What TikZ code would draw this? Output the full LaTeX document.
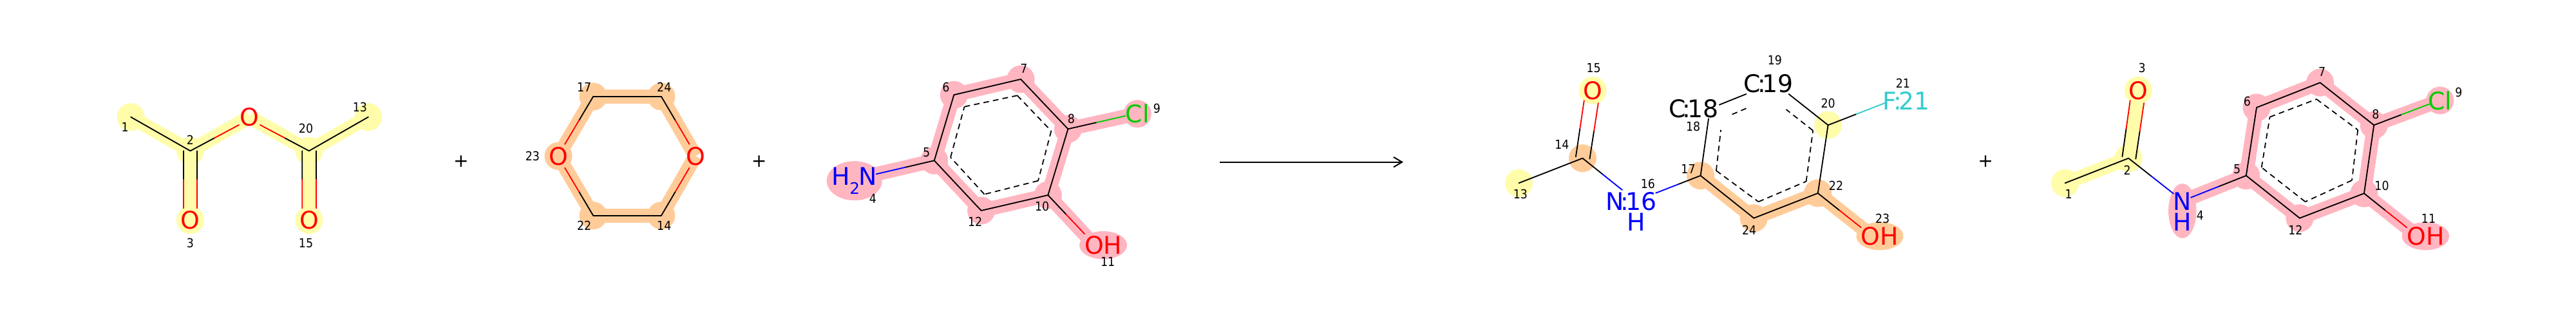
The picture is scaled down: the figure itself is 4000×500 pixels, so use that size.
\documentclass[tikz,border=0pt]{standalone}
\usepackage{fontspec}
\setmainfont{DejaVu Sans}
\newfontfamily\numfont{DejaVu Sans}[FakeStretch=0.9]
\usetikzlibrary{calc,arrows.meta}
\definecolor{hy}{HTML}{FFFDAA}
\definecolor{ho}{HTML}{FFCC99}
\definecolor{hp}{HTML}{FFB6C1}
\definecolor{oc}{RGB}{255,0,0}
\definecolor{nc}{RGB}{0,0,255}
\definecolor{clc}{RGB}{0,204,0}
\definecolor{fc}{HTML}{33CCCC}
\tikzset{
  bondline/.style={line width=1.05pt,line cap=round},
  innerdash/.style={line width=1.0pt,dash pattern=on 5pt off 3.6pt},
  band/.style={line width=12.47pt,line cap=butt},
  atomlab/.style={font=\fontsize{21.5}{24}\selectfont,inner sep=0pt,outer sep=0pt},
  numlab/.style={font=\numfont\fontsize{11}{12}\selectfont,inner sep=0pt,outer sep=0pt},
  plussign/.style={font=\fontsize{16}{18}\selectfont,inner sep=0pt},
}
% half-coloured bond: from, to, colour at from, colour at to
\newcommand{\hb}[4]{%
  \draw[bondline,#3] (#1) -- ($(#1)!.5!(#2)$);
  \draw[bondline,#4] ($(#1)!.5!(#2)$) -- (#2);}
\newcommand{\bb}[2]{\draw[bondline,black] (#1) -- (#2);}
\newcommand{\ib}[2]{\draw[innerdash] (#1) -- (#2);}
\newcommand{\bandl}[3]{\draw[band,#1] (#2) -- (#3);}
\newcommand{\atomdot}[2]{\fill[#1] (#2) circle [radius=21.5];}
\newcommand{\cn}[2]{#1\kern-.13em:\kern-.13em#2}
\newcommand{\co}[2]{\coordinate (#1) at (#2);}
\newcommand{\numl}[3]{\node[numlab] (#1) at (#2) {#3};}
\begin{document}
\begin{tikzpicture}[x=0.02cm,y=-0.02cm]
\useasboundingbox (0,0) rectangle (4000,500);
\fill[white] (0,0) rectangle (4000,500);
% ---------- acetic anhydride
\co{a1}{203.1,181.7}\co{a2}{295.5,234.3}\co{aO}{387.5,181.7}\co{a20}{479.9,234.3}
\co{a13}{571.9,181.7}\co{a3}{295.5,341.7}\co{a15}{479.9,341.7}
\co{a2e}{371,194}\co{a20e}{404,194}
\co{a2l}{284.8,234.3}\co{a2r}{306.2,234.3}\co{a3l}{284.8,323.3}\co{a3r}{306.2,323.3}
\co{a20l}{469.2,234.3}\co{a20r}{490.6,234.3}\co{a15l}{469.2,323.3}\co{a15r}{490.6,323.3}
\bandl{hy}{a1}{a2}\bandl{hy}{a2}{aO}\bandl{hy}{aO}{a20}\bandl{hy}{a20}{a13}\bandl{hy}{a2}{a3}\bandl{hy}{a20}{a15}
\atomdot{hy}{a1}\atomdot{hy}{a2}\atomdot{hy}{a20}\atomdot{hy}{a13}\atomdot{hy}{a3}\atomdot{hy}{a15}
\bb{a1}{a2}\hb{a2}{a2e}{black}{oc}\hb{a20}{a20e}{black}{oc}\bb{a20}{a13}
\hb{a2l}{a3l}{black}{oc}\hb{a2r}{a3r}{black}{oc}\hb{a20l}{a15l}{black}{oc}\hb{a20r}{a15r}{black}{oc}
\node[atomlab,text=oc] (taO) at (aO) {O};
\node[atomlab,text=oc] (ta3) at (a3) {O};
\node[atomlab,text=oc] (ta15) at (a15) {O};
\numl{na1}{194.2,197.3}{1}\numl{na2}{295.5,217.7}{2}\numl{na3}{295.5,377.3}{3}
\numl{na20}{475,199.7}{20}\numl{na13}{558.9,166.7}{13}\numl{na15}{475,377.3}{15}
\node[plussign] (p1) at (716,251) {+};
% ---------- dioxane
\co{b17}{921.1,150}\co{b24}{1026.9,150}\co{bOr}{1080,242.3}\co{b14}{1026.9,334.7}\co{b22}{921.1,334.7}\co{bOl}{867,242.3}
\co{bOre}{1070.5,224}\co{bOrf}{1070.5,260.5}\co{bOle}{877,224}\co{bOlf}{877,260.5}
\bandl{ho}{b17}{b24}\bandl{ho}{b24}{bOr}\bandl{ho}{bOr}{b14}\bandl{ho}{b14}{b22}\bandl{ho}{b22}{bOl}\bandl{ho}{bOl}{b17}
\atomdot{ho}{b17}\atomdot{ho}{b24}\atomdot{ho}{b14}\atomdot{ho}{b22}\atomdot{ho}{bOl}
\bb{b17}{b24}\bb{b14}{b22}\hb{b24}{bOre}{black}{oc}\hb{b14}{bOrf}{black}{oc}\hb{b17}{bOle}{black}{oc}\hb{b22}{bOlf}{black}{oc}
\node[atomlab,text=oc] (tbOr) at (bOr) {O};
\node[atomlab,text=oc] (tbOl) at (bOl) {O};
\numl{nb17}{907.2,135}{17}\numl{nb24}{1031.3,135}{24}\numl{nb23}{826.9,242.7}{23}\numl{nb22}{907.2,350}{22}\numl{nb14}{1031.3,350}{14}
\node[plussign] (p2) at (1178.7,251) {+};
% ---------- aminochlorophenol
\co{c4}{1347,273.5}\co{c5}{1450.7,249.3}\co{c6}{1481.3,147.3}\co{c7}{1585,123}\co{c8}{1658.4,200.3}\co{c10}{1627.3,303}\co{c12}{1523.6,327}
\co{c9}{1766.2,176.7}\co{c11}{1699,380}
\co{c4e}{1360.7,270.3}\co{c9e}{1747.5,180}\co{c11e}{1684.1,363.3}
\co{ci5}{1476,244.3}\co{ci6}{1497.5,165.7}\co{ci7}{1579.6,148.3}\co{ci8}{1632.3,203.3}\co{ci10}{1612,280.7}\co{ci12}{1528.6,301.7}
\bandl{hp}{c4}{c5}\bandl{hp}{c5}{c6}\bandl{hp}{c6}{c7}\bandl{hp}{c7}{c8}\bandl{hp}{c8}{c10}\bandl{hp}{c10}{c12}\bandl{hp}{c12}{c5}\bandl{hp}{c8}{c9}\bandl{hp}{c10}{c11}
\atomdot{hp}{c5}\atomdot{hp}{c6}\atomdot{hp}{c7}\atomdot{hp}{c8}\atomdot{hp}{c10}\atomdot{hp}{c12}\atomdot{hp}{c9}
\fill[hp] (1326.7,280.7) ellipse [x radius=43,y radius=30.5];
\fill[hp] (1713.1,380.7) ellipse [x radius=37,y radius=21.7];
\hb{c5}{c4e}{black}{nc}\hb{c8}{c9e}{black}{clc}\hb{c10}{c11e}{black}{oc}
\bb{c5}{c6}\bb{c6}{c7}\bb{c7}{c8}\bb{c8}{c10}\bb{c10}{c12}\bb{c12}{c5}
\ib{ci5}{ci6}\ib{ci6}{ci7}\ib{ci7}{ci8}\ib{ci8}{ci10}\ib{ci10}{ci12}\ib{ci12}{ci5}
\node[atomlab,text=nc,anchor=base] (tc4) at (1327,287.3) {H\kern-.03em\raisebox{-.375em}{\fontsize{14}{14}\selectfont 2}\kern-.03em N};
\node[atomlab,text=clc] (tc9) at (c9) {Cl};
\node[atomlab,text=oc] (tc11) at (1713.1,380.7) {OH};
\numl{nc4}{1355.3,308.3}{4}\numl{nc5}{1438.6,236.7}{5}\numl{nc6}{1468.9,135}{6}\numl{nc7}{1590,106}{7}\numl{nc8}{1663.3,184.3}{8}
\numl{nc9}{1796.4,168.7}{9}\numl{nc10}{1618.2,320}{10}\numl{nc11}{1720.1,406.7}{11}\numl{nc12}{1514.1,344.3}{12}
% ---------- reaction arrow
\coordinate (arrS) at (1894.3,251.7);
\coordinate (arrE) at (2179,251.7);
\draw[line width=1.15pt,-{Straight Barb[length=7.4pt,width=8.8pt,line width=1.15pt]}] (arrS) -- (arrE);
% ---------- product 1
\co{d13}{2358.4,284.3}\co{d14}{2457.4,245.7}\co{d15}{2473.2,140.3}\co{d17}{2640.6,272.7}\co{d20}{2838.6,194.3}\co{d22}{2822.8,300}\co{d24}{2723.3,338.7}\co{d23}{2907.4,367}
\co{d14l}{2446.9,243.3}\co{d15l}{2459.8,156}\co{d14r}{2468.4,246.7}\co{d15r}{2481.8,160}
\co{d16a}{2519,295}\co{d16b}{2571.2,299.7}\co{d18a}{2653,184.3}\co{d18b}{2669.8,162.7}\co{d19a}{2711.5,146}\co{d19b}{2777.5,146}\co{d21e}{2926.8,160}\co{d23e}{2889.8,353.3}
\co{dia}{2664.9,265}\co{dib}{2730.5,313.3}\co{dic}{2804.6,281.7}\co{did}{2815.1,202.7}\co{die}{2773.5,170}\co{dif}{2711.5,168.3}\co{dig}{2684.1,180}\co{dih}{2672.1,201.7}
\bandl{ho}{d17}{d24}\bandl{ho}{d24}{d22}\bandl{ho}{d22}{d23}
\atomdot{hy}{d13}\atomdot{ho}{d14}\atomdot{hy}{d15}\atomdot{ho}{d17}\atomdot{ho}{d24}\atomdot{ho}{d22}\atomdot{hy}{d20}
\fill[ho] (2919,366.7) ellipse [x radius=36.6,y radius=21.7];
\bb{d13}{d14}\hb{d14l}{d15l}{black}{oc}\hb{d14r}{d15r}{black}{oc}\hb{d14}{d16a}{black}{nc}\hb{d17}{d16b}{black}{nc}
\bb{d17}{d18a}\bb{d18b}{d19a}\bb{d19b}{d20}\hb{d20}{d21e}{black}{fc}\bb{d20}{d22}\bb{d22}{d24}\bb{d24}{d17}\hb{d22}{d23e}{black}{oc}
\ib{dia}{dih}\ib{dia}{dib}\ib{dib}{dic}\ib{dic}{did}\ib{did}{die}\ib{dif}{dig}
\node[atomlab,text=oc] (td15) at (d15) {O};
\node[atomlab,text=nc] (td16) at (2533,312.3) {\cn{N}{16}};
\node[atomlab,text=nc] (td16h) at (2540.7,345) {H};
\node[atomlab] (td18) at (2630,168.3) {\cn{C}{18}};
\node[atomlab] (td19) at (2746.3,129.3) {\cn{C}{19}};
\node[atomlab,text=fc] (td21) at (2960,156) {\cn{F}{21}};
\node[atomlab,text=oc] (td23) at (2919,366.7) {OH};
\numl{nd13}{2360.8,301}{13}\numl{nd14}{2425.4,224}{14}\numl{nd15}{2474.6,105.7}{15}\numl{nd16}{2558.8,285}{16}\numl{nd17}{2621.5,262.3}{17}\numl{nd18}{2629.2,196}{18}
\numl{nd19}{2755.8,93.7}{19}\numl{nd20}{2838.6,160.7}{20}\numl{nd21}{2954.8,129}{21}\numl{nd22}{2851,288}{22}\numl{nd23}{2923.2,339.3}{23}\numl{nd24}{2716.1,357.3}{24}
\node[plussign] (p3) at (3083.2,251) {+};
% ---------- product 2
\co{e1}{3206.6,284.3}\co{e2}{3305.1,245.7}\co{e3}{3320.4,140.3}\co{e4}{3388.8,312.3}\co{e5}{3487.8,272.7}\co{e6}{3504,167}\co{e7}{3602.6,128.3}\co{e8}{3686.2,194.3}\co{e10}{3670.9,300.3}\co{e12}{3570.9,338.7}\co{e9}{3788.8,156}\co{e11}{3754,366.7}
\co{e2l}{3295.4,243.3}\co{e3l}{3307.7,156}\co{e2r}{3316.3,246.7}\co{e3r}{3329.1,160}
\co{e4a}{3375,300.7}\co{e4b}{3402,306.7}\co{e9e}{3772,161.7}\co{e11e}{3737.2,353.3}
\co{ei5}{3511.7,260}\co{ei6}{3524.5,181.7}\co{ei7}{3597,154}\co{ei8}{3661.2,201.7}\co{ei10}{3652,280}\co{ei12}{3579.6,313.3}
\bandl{hy}{e1}{e2}\bandl{hy}{e2}{e3}
\bandl{hp}{e4}{e5}\bandl{hp}{e5}{e6}\bandl{hp}{e6}{e7}\bandl{hp}{e7}{e8}\bandl{hp}{e8}{e10}\bandl{hp}{e10}{e12}\bandl{hp}{e12}{e5}\bandl{hp}{e8}{e9}\bandl{hp}{e10}{e11}
\atomdot{hy}{e1}\atomdot{hy}{e2}\atomdot{hy}{e3}\atomdot{hp}{e5}\atomdot{hp}{e6}\atomdot{hp}{e7}\atomdot{hp}{e8}\atomdot{hp}{e10}\atomdot{hp}{e12}\atomdot{hp}{e9}
\fill[hp] (3388.8,327.5) ellipse [x radius=21.7,y radius=42.5];
\fill[hp] (3766.3,366.7) ellipse [x radius=36.7,y radius=21.7];
\bb{e1}{e2}\hb{e2l}{e3l}{black}{oc}\hb{e2r}{e3r}{black}{oc}\hb{e2}{e4a}{black}{nc}\hb{e5}{e4b}{black}{nc}
\bb{e5}{e6}\bb{e6}{e7}\bb{e7}{e8}\bb{e8}{e10}\bb{e10}{e12}\bb{e12}{e5}\hb{e8}{e9e}{black}{clc}\hb{e10}{e11e}{black}{oc}
\ib{ei5}{ei6}\ib{ei6}{ei7}\ib{ei7}{ei8}\ib{ei8}{ei10}\ib{ei10}{ei12}\ib{ei12}{ei5}
\node[atomlab,text=oc] (te3) at (e3) {O};
\node[atomlab,text=nc] (te4) at (e4) {N};
\node[atomlab,text=nc] (te4h) at (3388.8,345) {H};
\node[atomlab,text=clc] (te9) at (e9) {Cl};
\node[atomlab,text=oc] (te11) at (3766.3,366.7) {OH};
\numl{ne1}{3212.2,301.7}{1}\numl{ne2}{3303,264.3}{2}\numl{ne3}{3326,105.7}{3}\numl{ne4}{3416.3,334.3}{4}\numl{ne5}{3473.5,262.3}{5}\numl{ne6}{3489.3,157.3}{6}
\numl{ne7}{3605.6,111}{7}\numl{ne8}{3688.8,177.7}{8}\numl{ne9}{3817.8,143.3}{9}\numl{ne10}{3698.5,288}{10}\numl{ne11}{3771,339.3}{11}\numl{ne12}{3564.3,357.3}{12}
\end{tikzpicture}
\end{document}
